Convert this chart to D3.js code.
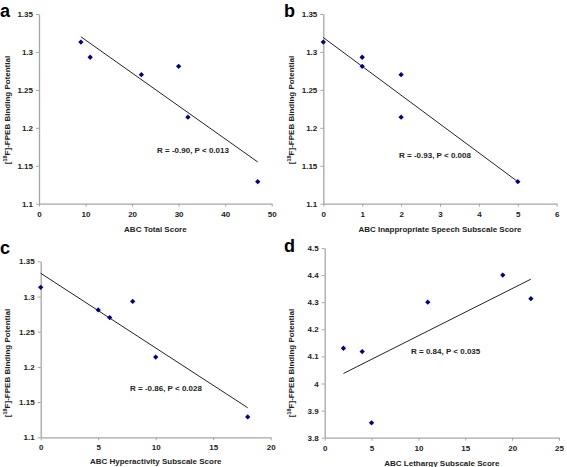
<!DOCTYPE html>
<html><head><meta charset="utf-8">
<script src="https://cdn.jsdelivr.net/npm/d3@7"></script>
<style>body{margin:0;background:#fff}svg{display:block}text{font-family:"Liberation Sans",Arial,sans-serif}</style>
</head><body>
<svg id="c" width="567" height="467"></svg>
<script>
// Panel a: ABC Total Score
const aX = [9, 11, 22, 30, 32, 47];
const aY = [1.313, 1.293, 1.270, 1.281, 1.214, 1.129];
const aFit = [[9, 1.320], [47, 1.155]];
// Panel b: Inappropriate Speech
const bX = [0, 1, 1, 2, 2, 5];
const bY = [1.313, 1.293, 1.281, 1.270, 1.214, 1.129];
const bFit = [[0, 1.319], [5, 1.129]];
// Panel c: Hyperactivity
const cX = [0, 5, 6, 8, 10, 18];
const cY = [1.313, 1.281, 1.270, 1.293, 1.214, 1.129];
const cFit = [[0, 1.333], [18, 1.142]];
// Panel d: Lethargy
const dX = [2, 4, 5, 11, 19, 22];
const dY = [4.130, 4.118, 3.855, 4.300, 4.400, 4.313];
const dFit = [[2, 4.037], [22, 4.385]];

const yTicksBP = [1.1, 1.15, 1.2, 1.25, 1.3, 1.35];
const yTicksD = [3.8, 3.9, 4.0, 4.1, 4.2, 4.3, 4.4, 4.5];
const xTicksA = [0, 10, 20, 30, 40, 50];
const xTicksB = [0, 1, 2, 3, 4, 5, 6];
const xTicksC = [0, 5, 10, 15, 20];
const xTicksD = [0, 5, 10, 15, 20, 25];

const letters = ["a", "b", "c", "d"];
const xLabels = ["ABC Total Score", "ABC Inappropriate Speech Subscale Score",
  "ABC Hyperactivity Subscale Score", "ABC Lethargy Subscale Score"];
const stats = ["R = -0.90, P < 0.013", "R = -0.93, P < 0.008",
  "R = -0.86, P < 0.028", "R = 0.84, P < 0.035"];

const panels = [
  {xs:aX, ys:aY, fit:aFit, xd:[0,50], yd:[1.1,1.35], xt:xTicksA, yt:yTicksBP,
   L:39, R:271.7, T:14, B:203.7, letter:[0,17], ylx:7, yly:110, xly:232, st:[157,153]},
  {xs:bX, ys:bY, fit:bFit, xd:[0,6], yd:[1.1,1.35], xt:xTicksB, yt:yTicksBP,
   L:323.3, R:556.7, T:14, B:203.7, letter:[284,17], ylx:291, yly:110, xly:232, st:[399,158]},
  {xs:cX, ys:cY, fit:cFit, xd:[0,20], yd:[1.1,1.35], xt:xTicksC, yt:yTicksBP,
   L:40.7, R:270.7, T:261.3, B:437.3, letter:[0,254], ylx:7, yly:363, xly:464, st:[130,391]},
  {xs:dX, ys:dY, fit:dFit, xd:[0,25], yd:[3.8,4.5], xt:xTicksD, yt:yTicksD,
   L:324.7, R:559, T:248, B:437.7, letter:[284,252], ylx:291, yly:363, xly:466, st:[411,354]}
];

// square diamond marker
const squareDiamond = {
  draw(ctx, size) {
    const r = Math.sqrt(size / 2);
    ctx.moveTo(0, -r); ctx.lineTo(r, 0); ctx.lineTo(0, r); ctx.lineTo(-r, 0); ctx.closePath();
  }
};

const svg = d3.select("#c");
const axisCol = "#a6a6a6";
const textCol = "#222";
const fs = 8;

panels.forEach((p, i) => {
  const x = d3.scaleLinear().domain(p.xd).range([p.L, p.R]);
  const y = d3.scaleLinear().domain(p.yd).range([p.B, p.T]);
  const g = svg.append("g");

  const xa = g.append("g").attr("transform", `translate(0,${p.B})`)
    .call(d3.axisBottom(x).tickValues(p.xt).tickSize(3).tickSizeOuter(0).tickFormat(d3.format("d")));
  const ya = g.append("g").attr("transform", `translate(${p.L},0)`)
    .call(d3.axisLeft(y).tickValues(p.yt).tickSize(3).tickSizeOuter(0).tickFormat(d => String(+d.toFixed(2))));
  [xa, ya].forEach(a => {
    a.select(".domain").attr("stroke", axisCol).attr("stroke-width", 1.3);
    a.selectAll(".tick line").attr("stroke", axisCol);
    a.selectAll(".tick text").attr("fill", textCol).attr("font-size", fs)
      .attr("font-weight", "bold").attr("font-family", "Liberation Sans, Arial, sans-serif");
  });
  xa.selectAll(".tick text").attr("dy", "0.9em");

  g.append("line")
    .attr("x1", x(p.fit[0][0])).attr("y1", y(p.fit[0][1]))
    .attr("x2", x(p.fit[1][0])).attr("y2", y(p.fit[1][1]))
    .attr("stroke", "#222").attr("stroke-width", 1);

  g.selectAll("path.pt").data(p.xs.map((v, k) => [v, p.ys[k]])).join("path")
    .attr("class", "pt")
    .attr("d", d3.symbol(squareDiamond, 14))
    .attr("transform", d => `translate(${x(d[0])},${y(d[1])})`)
    .attr("fill", "#00008b");

  g.append("text").attr("x", p.st[0]).attr("y", p.st[1])
    .attr("font-size", fs).attr("font-weight", "bold").attr("fill", textCol)
    .text(stats[i]);

  g.append("text").attr("x", (p.L + p.R) / 2).attr("y", p.xly)
    .attr("text-anchor", "middle").attr("font-size", fs).attr("font-weight", "bold")
    .attr("fill", textCol).text(xLabels[i]);

  const yl = g.append("text")
    .attr("transform", `translate(${p.ylx},${p.yly}) rotate(-90)`)
    .attr("text-anchor", "middle").attr("dominant-baseline", "central")
    .attr("font-size", fs).attr("font-weight", "bold").attr("fill", textCol);
  yl.append("tspan").text("[");
  yl.append("tspan").attr("font-size", 5.5).attr("dy", -2.5).text("18");
  yl.append("tspan").attr("dy", 2.5).text("F]-FPEB Binding Potential");

  g.append("text").attr("x", p.letter[0]).attr("y", p.letter[1])
    .attr("font-size", 18).attr("font-weight", "bold").attr("fill", "#000")
    .text(letters[i]);
});
</script>
</body></html>
